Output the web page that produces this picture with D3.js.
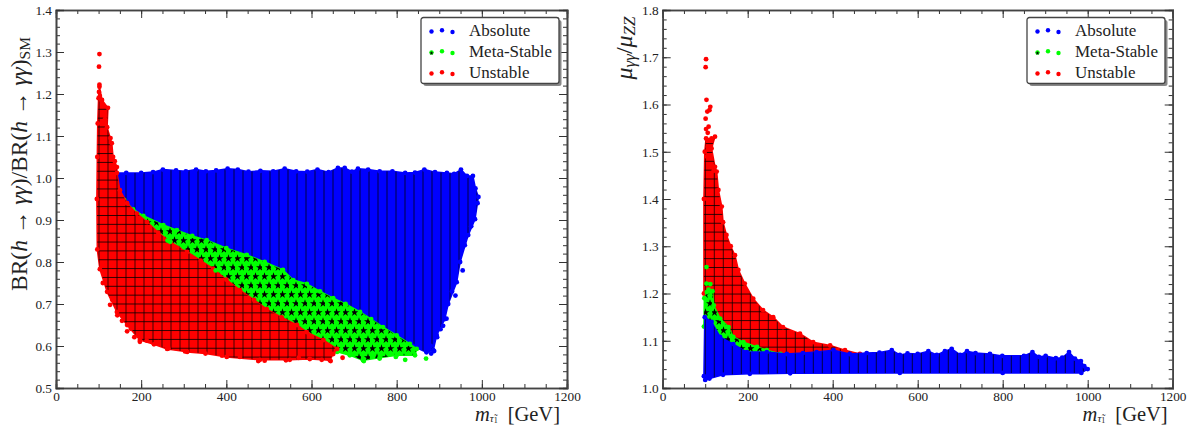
<!DOCTYPE html>
<html>
<head>
<meta charset="utf-8">
<script src="https://cdn.jsdelivr.net/npm/d3@7"></script>
<style>
  html, body { margin: 0; padding: 0; background: #fff; }
  svg { display: block; }
  text { font-family: "Liberation Serif", serif; fill: #222; }
</style>
</head>
<body>
<svg id="chart" width="1191" height="425"></svg>
<script>
// Envelopes, as [mass, value]
const leftAbsolute = [[140,1.012],[165,1.012],[200,1.012],[228,1.014],[251,1.02],[282,1.018],[305,1.016],[329,1.02],[352,1.016],[376,1.018],[403,1.022],[427,1.02],[452,1.015],[480,1.017],[510,1.016],[537,1.022],[564,1.016],[590,1.015],[614,1.02],[640,1.014],[662,1.024],[678,1.024],[695,1.015],[709,1.022],[733,1.02],[760,1.016],[790,1.016],[820,1.012],[843,1.013],[865,1.02],[890,1.014],[918,1.012],[935,1.01],[951,1.02],[965,1.005],[979,1.005],[985,0.975],[992,0.955],[984,0.902],[968,0.864],[949,0.8],[941,0.752],[921,0.7],[913,0.664],[894,0.626],[886,0.59],[870,0.585],[838,0.6],[800,0.62],[600,0.72],[300,0.85],[150,0.95]];
const leftAbsoluteStray = [[881,0.582],[888,0.588],[917,0.665],[909,0.648],[895,0.621],[978,0.92],[960,0.84],[930,0.73],[975,0.885],[955,0.78],[938,0.72],[903,0.64],[880,0.6],[990,0.94]];

const leftMeta = [[160,0.948],[181,0.925],[205,0.91],[252,0.888],[284,0.876],[320,0.862],[354,0.852],[400,0.833],[448,0.817],[490,0.8],[533,0.781],[557,0.757],[589,0.748],[620,0.73],[651,0.714],[680,0.7],[714,0.681],[740,0.664],[768,0.645],[800,0.625],[831,0.605],[847,0.593],[843,0.578],[800,0.578],[760,0.572],[721,0.566],[690,0.578],[660,0.586],[600,0.6],[400,0.72],[250,0.83],[200,0.88]];
const leftMetaStray = [[869,0.57],[820,0.567],[798,0.574],[760,0.57],[723,0.564],[268,0.848],[262,0.851],[300,0.835],[375,0.78],[780,0.582],[745,0.575]];

const leftUnstable = [[97,1.05],[98,1.13],[100,1.19],[102,1.217],[108,1.186],[122,1.167],[120,1.121],[131,1.083],[134,1.05],[143,1.026],[143,1.012],[150,0.971],[167,0.94],[190,0.915],[214,0.895],[240,0.87],[268,0.848],[308,0.824],[340,0.803],[369,0.784],[400,0.758],[432,0.733],[465,0.71],[495,0.688],[530,0.668],[566,0.65],[589,0.633],[628,0.614],[660,0.593],[651,0.581],[643,0.566],[596,0.569],[549,0.567],[479,0.567],[401,0.574],[351,0.582],[308,0.586],[261,0.593],[230,0.604],[197,0.614],[167,0.65],[143,0.681],[120,0.729],[103,0.783],[97,0.83],[96,0.95]];
const leftUnstableStray = [[102,1.295],[101,1.265],[102,1.222],[101,1.205],[103,1.195],[107,1.185],[127,0.698],[144,0.673],[167,0.635],[176,0.641],[184,0.621],[197,0.61],[213,0.613],[240,0.609],[264,0.594],[303,0.587],[390,0.577],[432,0.574],[475,0.564],[490,0.565],[540,0.566],[570,0.572],[624,0.567],[645,0.564],[673,0.572],[115,1.14],[128,1.095],[138,1.04],[110,0.75],[132,0.71],[155,0.66]];

const rightAbsolute = [[99,1.15],[115,1.14],[135,1.108],[166,1.093],[198,1.076],[245,1.076],[292,1.072],[330,1.074],[362,1.076],[402,1.08],[440,1.072],[480,1.074],[510,1.075],[539,1.08],[558,1.07],[576,1.073],[600,1.072],[625,1.078],[645,1.07],[664,1.078],[680,1.083],[700,1.07],[716,1.078],[736,1.074],[770,1.072],[799,1.068],[850,1.068],[870,1.076],[885,1.066],[901,1.068],[925,1.063],[940,1.064],[956,1.076],[970,1.062],[984,1.057],[992,1.046],[1000,1.04],[985,1.032],[800,1.032],[558,1.032],[300,1.031],[205,1.03],[142,1.028],[110,1.02],[100,1.017],[97,1.025]];

const rightMeta = [[97,1.13],[98,1.19],[104,1.203],[117,1.205],[120,1.175],[135,1.147],[155,1.129],[166,1.108],[190,1.097],[222,1.087],[245,1.08],[277,1.072],[245,1.06],[160,1.08],[110,1.12]];
const rightMetaStray = [[103,1.256],[103,1.221],[112,1.22],[108,1.208]];

const rightUnstable = [[97,1.2],[97,1.4],[99,1.5],[102,1.528],[115,1.528],[123,1.532],[115,1.507],[123,1.468],[127,1.458],[131,1.419],[139,1.384],[142,1.351],[150,1.324],[160,1.3],[170,1.281],[178,1.25],[193,1.221],[213,1.189],[236,1.165],[260,1.15],[283,1.129],[323,1.115],[354,1.097],[394,1.09],[429,1.08],[464,1.072],[450,1.05],[300,1.05],[150,1.08]];
const rightUnstableStray = [[102,1.696],[101,1.679],[103,1.61],[110,1.588],[112,1.595],[105,1.585],[101,1.57],[102,1.548],[108,1.553],[106,1.54],[106,1.51],[104,1.49],[116,1.47],[120,1.46]];

const legendLabels = ["Absolute", "Meta-Stable", "Unstable"];
const legendColors = ["#0000ff", "#00ff00", "#ff0000"];
const legendDotOffset = [[0, 0.5], [10.5, -0.8], [21, 1]];

const xMajor = [0, 200, 400, 600, 800, 1000, 1200];
const xMinor = d3.range(0, 1201, 50);
const leftMajor = [0.5, 0.6, 0.7, 0.8, 0.9, 1.0, 1.1, 1.2, 1.3, 1.4];
const rightMajor = [1.0, 1.1, 1.2, 1.3, 1.4, 1.5, 1.6, 1.7, 1.8];
const yMinor = d3.range(0, 67).map(i => 0.5 + i * 0.02);

const svg = d3.select("#chart");
const defs = svg.append("defs");

// Hatches
function linePattern(id, x0, y0, horizontal) {
  const p = defs.append("pattern").attr("id", id)
    .attr("patternUnits", "userSpaceOnUse")
    .attr("x", x0).attr("y", y0)
    .attr("width", 9).attr("height", 8.85);
  p.append("path").attr("d", "M0.5,0V8.85")
    .attr("stroke", "#000").attr("stroke-width", 1).attr("stroke-opacity", 0.72);
  if (horizontal) {
    p.append("path").attr("d", "M0,0.5H9")
      .attr("stroke", "#000").attr("stroke-width", 1).attr("stroke-opacity", 0.8);
  }
}
linePattern("hatchBlueL", -0.5, 0, false);
linePattern("hatchRedL", -0.5, 2.6, true);
linePattern("hatchBlueR", 2.8, 0, false);
linePattern("hatchRedR", 2.8, 1.5, true);

const starPath = d3.symbol().type(d3.symbolStar).size(20)();
const star = defs.append("pattern").attr("id", "hatchStar")
  .attr("patternUnits", "userSpaceOnUse")
  .attr("x", 1).attr("y", 2)
  .attr("width", 9).attr("height", 18);
star.append("path").attr("d", starPath).attr("transform", "translate(2.5,4.5)");
star.append("path").attr("d", starPath).attr("transform", "translate(7,13.5)");

function drawRegion(x, y, pts, color, hatch) {
  const line = d3.line().x(d => x(d[0])).y(d => y(d[1])).curve(d3.curveLinearClosed);
  const g = svg.append("g");
  g.append("path").attr("d", line(pts)).attr("fill", color)
    .attr("stroke", color).attr("stroke-width", 1.5).attr("stroke-linejoin", "round");
  g.append("path").attr("d", line(pts)).attr("fill", `url(#${hatch})`);
  drawDots(x, y, pts, color);
}

function drawDots(x, y, pts, color) {
  svg.append("g").selectAll("circle").data(pts).enter().append("circle")
    .attr("cx", d => x(d[0])).attr("cy", d => y(d[1]))
    .attr("r", 2.4).attr("fill", color);
}

function drawFrame(x, y, yMajor, yDomain) {
  const minorY = yMinor.filter(v => v >= yDomain[0] - 1e-6 && v <= yDomain[1] + 1e-6);
  const [x0, x1] = x.range();
  const [y0, y1] = y.range();
  const axes = [
    [d3.axisBottom(x).tickValues(xMinor).tickSize(-4).tickFormat(""), `translate(0,${y0})`],
    [d3.axisBottom(x).tickValues(xMajor).tickSize(-8).tickPadding(4).tickFormat(d3.format("d")), `translate(0,${y0})`],
    [d3.axisTop(x).tickValues(xMinor).tickSize(-4).tickFormat(""), `translate(0,${y1})`],
    [d3.axisTop(x).tickValues(xMajor).tickSize(-8).tickFormat(""), `translate(0,${y1})`],
    [d3.axisLeft(y).tickValues(minorY).tickSize(-4).tickFormat(""), `translate(${x0},0)`],
    [d3.axisLeft(y).tickValues(yMajor).tickSize(-8).tickPadding(4).tickFormat(d3.format(".1f")), `translate(${x0},0)`],
    [d3.axisRight(y).tickValues(minorY).tickSize(-4).tickFormat(""), `translate(${x1},0)`],
    [d3.axisRight(y).tickValues(yMajor).tickSize(-8).tickFormat(""), `translate(${x1},0)`]
  ];
  axes.forEach(([axis, tr]) => {
    const g = svg.append("g").attr("transform", tr).call(axis);
    g.select(".domain").attr("stroke", "#444").attr("stroke-width", 1.6);
    g.selectAll(".tick line").attr("stroke", "#333").attr("stroke-width", 1);
    g.selectAll(".tick text").attr("font-size", 13.3)
      .attr("font-family", "Liberation Serif").attr("fill", "#222");
  });
}

function drawLegend(left) {
  const g = svg.append("g").attr("transform", `translate(${left},17.5)`);
  g.append("rect").attr("x", 2.5).attr("y", 2.5).attr("width", 138).attr("height", 66)
    .attr("rx", 2.5).attr("fill", "#888");
  g.append("rect").attr("width", 138).attr("height", 66).attr("rx", 2.5)
    .attr("fill", "#fff").attr("stroke", "#444").attr("stroke-width", 1.3);
  legendLabels.forEach((label, i) => {
    const rowY = 13.5 + i * 21;
    legendDotOffset.forEach(o => {
      g.append("circle").attr("cx", 10.5 + o[0]).attr("cy", rowY + o[1])
        .attr("r", 2.2).attr("fill", legendColors[i]);
    });
    if (i === 1) {
      g.append("path").attr("d", d3.symbol().type(d3.symbolStar).size(5)())
        .attr("transform", `translate(10.5,${rowY + 1.2})`);
    }
    g.append("text").attr("x", 48).attr("y", rowY + 5.4)
      .attr("font-size", 17).text(label);
  });
}

function xLabel(right) {
  const t = svg.append("text").attr("x", right).attr("y", 420.5)
    .attr("text-anchor", "end").attr("font-size", 20.5);
  t.append("tspan").attr("font-style", "italic").text("m");
  t.append("tspan").attr("font-style", "italic").attr("font-size", 11).attr("dy", 1.5).text("τ\u0303");
  t.append("tspan").attr("font-size", 8).attr("dy", 0.5).text("1");
  t.append("tspan").attr("dy", -2).attr("dx", 10).text("[GeV]");
}

// Left panel
const xLeft = d3.scaleLinear().domain([0, 1200]).range([56, 567]);
const yLeft = d3.scaleLinear().domain([0.5, 1.4]).range([388, 10]);
drawRegion(xLeft, yLeft, leftAbsolute, "#0000ff", "hatchBlueL");
drawDots(xLeft, yLeft, leftAbsoluteStray, "#0000ff");
drawRegion(xLeft, yLeft, leftMeta, "#00ff00", "hatchStar");
drawRegion(xLeft, yLeft, leftUnstable, "#ff0000", "hatchRedL");
drawDots(xLeft, yLeft, leftUnstableStray, "#ff0000");
drawDots(xLeft, yLeft, leftMetaStray, "#00ff00");
drawFrame(xLeft, yLeft, leftMajor, [0.5, 1.4]);
drawLegend(421);
xLabel(560);

const yTitleLeft = svg.append("text").attr("transform", "translate(27,164) rotate(-90)")
  .attr("text-anchor", "middle").attr("font-size", 23.5);
[["BR(", 0], ["h", 1], [" → ", 0], ["γγ", 1], [")/BR(", 0], ["h", 1], [" → ", 0], ["γγ", 1], [")", 0]]
  .forEach(([s, it]) => {
    yTitleLeft.append("tspan").attr("font-style", it ? "italic" : "normal").text(s);
  });
yTitleLeft.append("tspan").attr("font-size", 15.5).attr("dy", 3).text("SM");

// Right panel
const xRight = d3.scaleLinear().domain([0, 1200]).range([662.7, 1172.7]);
const yRight = d3.scaleLinear().domain([1.0, 1.8]).range([388, 10]);
drawRegion(xRight, yRight, rightUnstable, "#ff0000", "hatchRedR");
drawDots(xRight, yRight, rightUnstableStray, "#ff0000");
drawRegion(xRight, yRight, rightMeta, "#00ff00", "hatchStar");
drawDots(xRight, yRight, rightMetaStray, "#00ff00");
drawRegion(xRight, yRight, rightAbsolute, "#0000ff", "hatchBlueR");
drawFrame(xRight, yRight, rightMajor, [1.0, 1.8]);
drawLegend(1027);
xLabel(1167.7);

const yTitleRight = svg.append("text").attr("transform", "translate(632,48) rotate(-90)")
  .attr("text-anchor", "middle").attr("font-size", 24);
yTitleRight.append("tspan").attr("font-style", "italic").text("μ");
yTitleRight.append("tspan").attr("font-style", "italic").attr("font-size", 17).attr("dy", 3).text("γγ");
yTitleRight.append("tspan").attr("dy", -3).text("/");
yTitleRight.append("tspan").attr("font-style", "italic").text("μ");
yTitleRight.append("tspan").attr("font-style", "italic").attr("font-size", 17).attr("dy", 3).text("ZZ");
</script>
</body>
</html>
